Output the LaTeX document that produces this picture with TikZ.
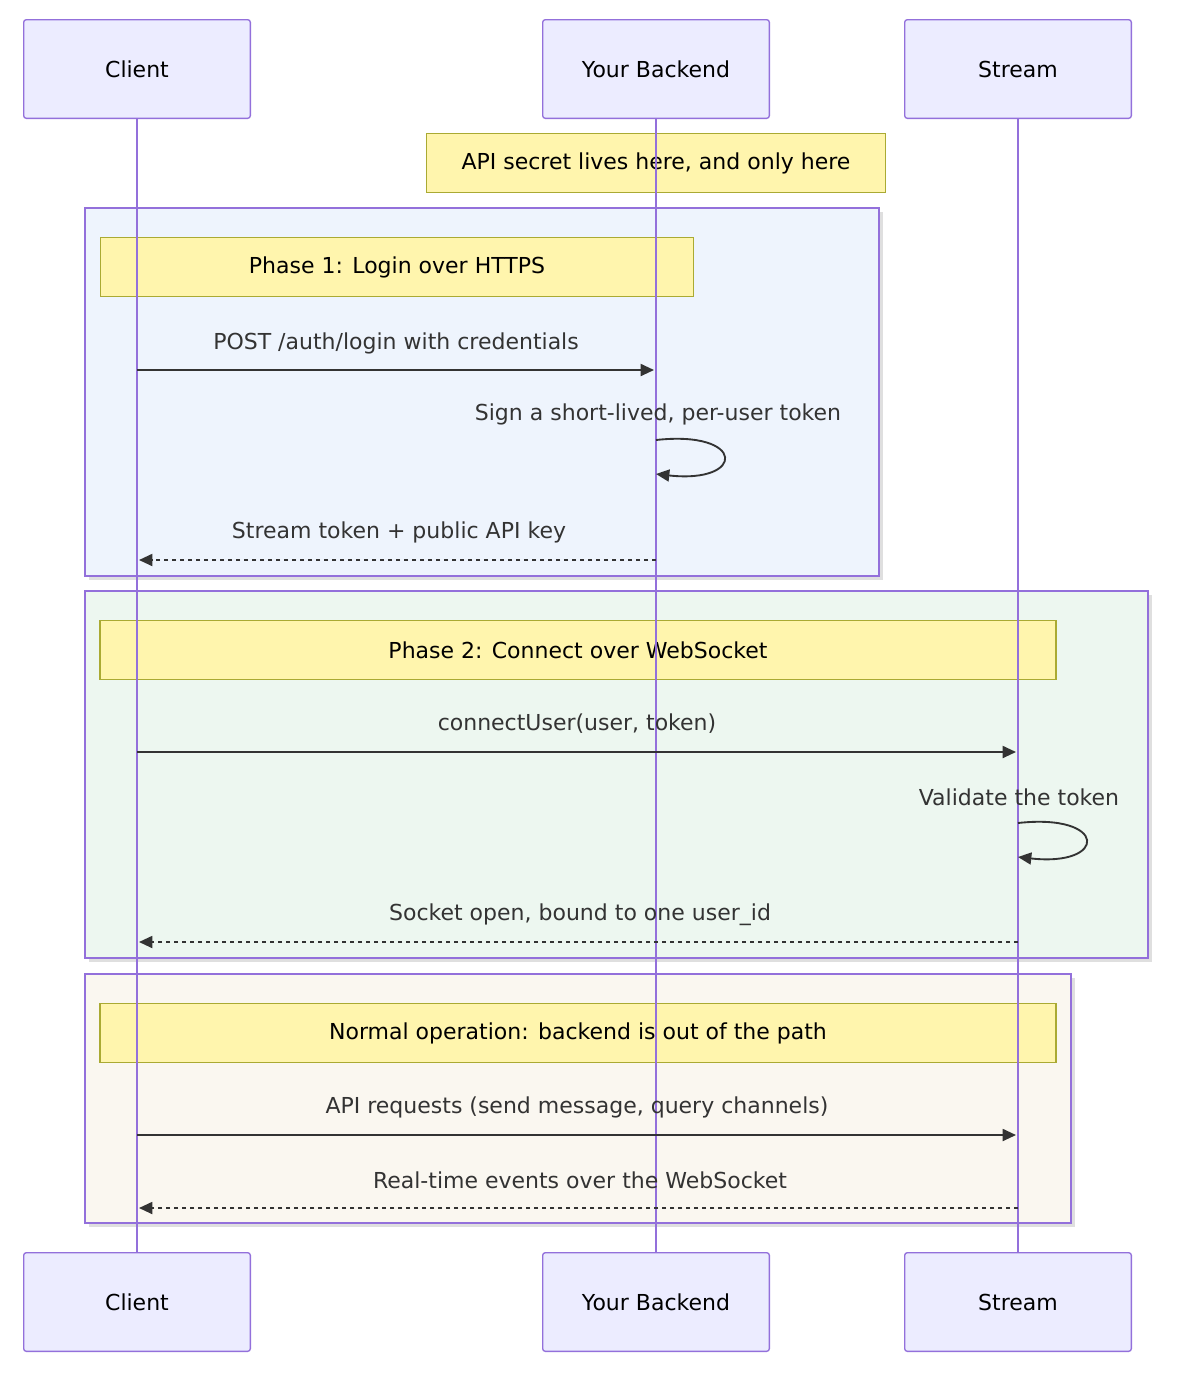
\documentclass[tikz,border=0pt]{standalone}
\usepackage{fontspec}
\setmainfont{DejaVu Sans}
\usetikzlibrary{positioning,arrows.meta,shadows}
\definecolor{actorfill}{HTML}{ECECFF}
\definecolor{actorline}{HTML}{9370DB}
\definecolor{notefill}{HTML}{FFF5AD}
\definecolor{noteline}{HTML}{AAAA33}
\definecolor{msgline}{HTML}{333333}
\definecolor{phaseone}{HTML}{EEF4FD}
\definecolor{phasetwo}{HTML}{EDF7F0}
\definecolor{phasethree}{HTML}{FAF7F0}
\begin{document}
\begin{tikzpicture}[
    x=0.75pt, y=-0.75pt,
    actor/.style={
      draw=actorline, fill=actorfill, rounded corners=2pt, line width=1pt,
      minimum width=170pt, minimum height=74pt, font=\fontsize{16.5}{19}\selectfont},
    note/.style={
      draw=noteline, fill=notefill, minimum height=44pt, line width=1pt,
      font=\fontsize{16.5}{19}\selectfont},
    phase/.style={
      draw=actorline, line width=1pt, drop shadow={opacity=0.25}},
    lifeline/.style={actorline, line width=1.6pt},
    msg/.style={msgline, line width=1.4pt, -{Triangle[length=10pt,width=9pt]}},
    reply/.style={msg, dashed},
    msglabel/.style={font=\fontsize{16.5}{19}\selectfont, text=msgline},
  ]
  \useasboundingbox (0,0) rectangle (1182,1396);
  % phase boxes
  \draw[phase, fill=phaseone] (85,208) rectangle (879,576);
  \draw[phase, fill=phasetwo] (85,591) rectangle (1148,958);
  \draw[phase, fill=phasethree] (85,974) rectangle (1071,1223);
  % notes
  \node[note, minimum width=344pt] (secret) at (656,163) {API secret lives here, and only here};
  \node[note, minimum width=445pt] (phA) at (397,267) {Phase 1: Login over HTTPS};
  \node[note, minimum width=717pt] (phB) at (578,650) {Phase 2: Connect over WebSocket};
  \node[note, minimum width=717pt] (phC) at (578,1033) {Normal operation: backend is out of the path};
  % actors
  \node[actor] (clientTop) at (137,69) {Client};
  \node[actor] (backendTop) at (656,69) {Your Backend};
  \node[actor] (streamTop) at (1018,69) {Stream};
  \node[actor] (clientBot) at (137,1302) {Client};
  \node[actor] (backendBot) at (656,1302) {Your Backend};
  \node[actor] (streamBot) at (1018,1302) {Stream};
  \draw[lifeline] (clientTop) -- (clientBot);
  \draw[lifeline] (backendTop) -- (backendBot);
  \draw[lifeline] (streamTop) -- (streamBot);
  % messages
  \node[msglabel] at (396,343) {POST /auth/login with credentials};
  \coordinate (c1) at (137,370); \coordinate (b1) at (654,370);
  \draw[msg] (c1) -- (b1);
  \node[msglabel] at (658,414) {Sign a short-lived, per-user token};
  \coordinate (b2) at (656,440); \coordinate (b3) at (656,474);
  \draw[msg] (b2) .. controls (746,430) and (746,484) .. (b3);
  \node[msglabel] at (399,532) {Stream token + public API key};
  \coordinate (b4) at (656,560); \coordinate (c4) at (139,560);
  \draw[reply] (b4) -- (c4);

  \node[msglabel] at (577,724) {connectUser(user, token)};
  \coordinate (c5) at (137,752); \coordinate (s5) at (1016,752);
  \draw[msg] (c5) -- (s5);
  \node[msglabel] at (1019,797) {Validate the token};
  \coordinate (s6) at (1018,823); \coordinate (s7) at (1018,857);
  \draw[msg] (s6) .. controls (1108,813) and (1108,867) .. (s7);
  \node[msglabel] at (580,915) {Socket open, bound to one user\_id};
  \coordinate (s8) at (1018,942); \coordinate (c8) at (139,942);
  \draw[reply] (s8) -- (c8);

  \node[msglabel] at (577,1107) {API requests (send message, query channels)};
  \coordinate (c9) at (137,1135); \coordinate (s9) at (1016,1135);
  \draw[msg] (c9) -- (s9);
  \node[msglabel] at (580,1180) {Real-time events over the WebSocket};
  \coordinate (s10) at (1018,1208); \coordinate (c10) at (139,1208);
  \draw[reply] (s10) -- (c10);
\end{tikzpicture}
\end{document}
